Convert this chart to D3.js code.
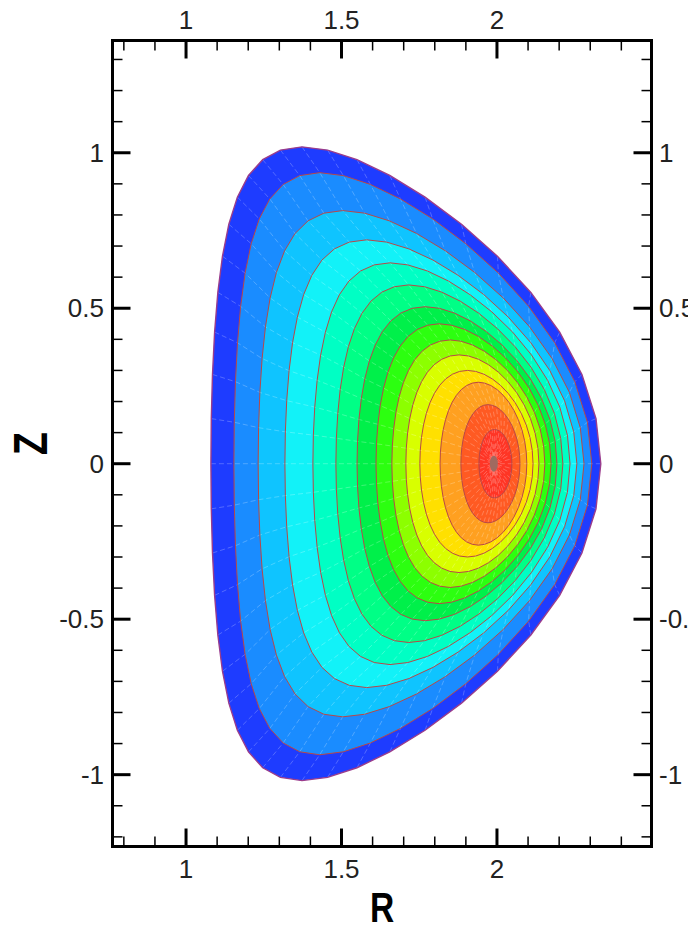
<!DOCTYPE html>
<html><head><meta charset="utf-8">
<script src="https://cdn.jsdelivr.net/npm/d3@7"></script>
<style>body{margin:0;background:#fff}</style>
</head><body>
<svg id="chart" width="688" height="931"></svg>
<script>
// Flux-surface contour extents (outermost = plasma boundary)
const contourRin  = [1.080, 1.154, 1.232, 1.318, 1.408, 1.482, 1.550, 1.611, 1.662, 1.707, 1.752, 1.817, 1.884, 1.942];
const contourRout = [2.334, 2.305, 2.280, 2.257, 2.235, 2.212, 2.193, 2.174, 2.154, 2.135, 2.116, 2.096, 2.074, 2.048];
const contourZtop = [1.019, 0.936, 0.814, 0.720, 0.646, 0.575, 0.505, 0.450, 0.398, 0.350, 0.300, 0.262, 0.190, 0.110];
const contourRtop = [1.373, 1.430, 1.504, 1.581, 1.656, 1.716, 1.769, 1.814, 1.849, 1.878, 1.905, 1.940, 1.971, 1.992];
const bandColors  = ["#1e3cff", "#1a8cff", "#0fc4ff", "#12f2f8", "#00ffc4", "#00ff86", "#00f04a", "#2cff10", "#8cff00", "#d8ff00", "#ffe000", "#ffa020", "#ff5a22", "#ff3525"];
const magAxis = {R: 1.99, Z: 0.0};
const rTickLabels = [1, 1.5, 2];
const zTickLabels = [-1, -0.5, 0, 0.5, 1];
const rDomain = [0.7635, 2.497];
const zDomain = [-1.231, 1.361];

(function () {
const svg = d3.select("#chart");
const pL = 112.5, pR = 651.5, pT = 40.5, pB = 846.5;
const x = d3.scaleLinear().domain(rDomain).range([pL, pR]);
const y = d3.scaleLinear().domain(zDomain).range([pB, pT]);

const N = 44;
function surface(i) {
  const R0 = (contourRin[i] + contourRout[i]) / 2;
  const a = (contourRout[i] - contourRin[i]) / 2;
  const k = contourZtop[i] / a;
  const d = (R0 - contourRtop[i]) / a;
  const s = Math.asin(Math.max(-0.99, Math.min(0.99, d)));
  const pts = [];
  for (let j = 0; j < N; j++) {
    const t = 2 * Math.PI * j / N;
    pts.push([R0 + a * Math.cos(t + s * Math.sin(t)), magAxis.Z + k * a * Math.sin(t)]);
  }
  return pts;
}
const surfaces = contourRin.map((_, i) => surface(i));
const line = d3.line().x(p => x(p[0])).y(p => y(p[1])).curve(d3.curveLinearClosed);

const g = svg.append("g");
surfaces.forEach((s, i) => {
  g.append("path").attr("d", line(s)).attr("fill", bandColors[i]).attr("stroke", "none");
});

const spokeLine = d3.line().x(p => x(p[0])).y(p => y(p[1]));
for (let j = 0; j < N; j++) {
  const pts = surfaces.map(s => s[j]);
  pts.push([magAxis.R, magAxis.Z]);
  g.append("path").attr("d", spokeLine(pts)).attr("fill", "none")
    .attr("stroke", "#fff").attr("stroke-opacity", 0.3).attr("stroke-width", 0.8)
    .attr("stroke-dasharray", "5,3");
}
surfaces.forEach((s, i) => {
  g.append("path").attr("d", line(s)).attr("fill", "none")
    .attr("stroke", i === 0 ? "#9a3c8c" : "#b84848").attr("stroke-width", i === 0 ? 1.4 : 1);
});
g.append("ellipse").attr("cx", x(magAxis.R)).attr("cy", y(magAxis.Z))
  .attr("rx", 4).attr("ry", 8).attr("fill", "#a06a60");

const minorR = d3.range(8, 25).map(v => v / 10);
const minorZ = d3.range(-12, 14).map(v => v / 10);
const tk = svg.append("g").attr("stroke", "#000");
minorR.forEach(v => {
  const major = Math.abs(v * 2 - Math.round(v * 2)) < 1e-6;
  const L = major ? 18 : 10, w = major ? 3 : 1.5;
  if (x(v) <= pL + 1 || x(v) >= pR - 1) return;
  tk.append("line").attr("x1", x(v)).attr("x2", x(v)).attr("y1", pT).attr("y2", pT + L).attr("stroke-width", w);
  tk.append("line").attr("x1", x(v)).attr("x2", x(v)).attr("y1", pB).attr("y2", pB - L).attr("stroke-width", w);
});
minorZ.forEach(v => {
  const major = Math.abs(v * 2 - Math.round(v * 2)) < 1e-6;
  const L = major ? 18 : 10, w = major ? 3 : 1.5;
  if (y(v) <= pT + 1 || y(v) >= pB - 1) return;
  tk.append("line").attr("y1", y(v)).attr("y2", y(v)).attr("x1", pL).attr("x2", pL + L).attr("stroke-width", w);
  tk.append("line").attr("y1", y(v)).attr("y2", y(v)).attr("x1", pR).attr("x2", pR - L).attr("stroke-width", w);
});
svg.append("rect").attr("x", pL).attr("y", pT).attr("width", pR - pL).attr("height", pB - pT)
  .attr("fill", "none").attr("stroke", "#000").attr("stroke-width", 3);

const fnt = "'Liberation Sans', Arial, Helvetica, sans-serif";
const fmt = v => String(v);
const lab = svg.append("g").attr("font-family", fnt).attr("font-size", 26).attr("fill", "#222");
rTickLabels.forEach(v => {
  lab.append("text").attr("x", x(v)).attr("y", 29).attr("text-anchor", "middle").text(fmt(v));
  lab.append("text").attr("x", x(v)).attr("y", 878).attr("text-anchor", "middle").text(fmt(v));
});
zTickLabels.forEach(v => {
  lab.append("text").attr("x", 104).attr("y", y(v)).attr("dy", "0.35em").attr("text-anchor", "end").text(fmt(v));
  lab.append("text").attr("x", 659).attr("y", y(v)).attr("dy", "0.35em").attr("text-anchor", "start").text(fmt(v));
});
svg.append("text").attr("font-family", fnt).attr("font-weight", "bold").attr("font-size", 43)
  .attr("text-anchor", "middle").attr("transform", `translate(${(pL + pR) / 2},922) scale(0.78,1)`)
  .text("R");
svg.append("text").attr("font-family", fnt).attr("font-weight", "bold").attr("font-size", 48)
  .attr("text-anchor", "middle").attr("transform", `translate(47,${(pT + pB) / 2}) rotate(-90) scale(0.78,1)`)
  .text("Z");
})();
</script>
</body></html>
